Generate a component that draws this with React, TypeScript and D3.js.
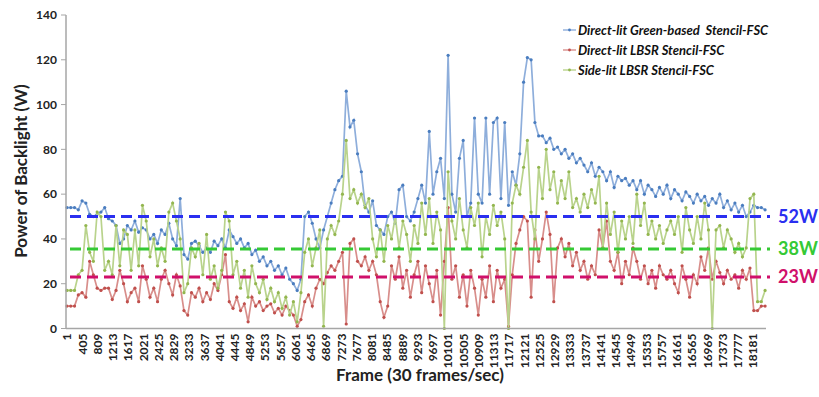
import React from "react";
import * as d3 from "d3";

// Backlight power per sampled frame (one sample every 100 frames, starting at frame 1)
const sampleStep = 100;

const greenBasedDirect = [
  54, 54, 54, 53, 57, 56, 51, 50, 51, 52, 54, 49, 48, 46, 38, 40, 46, 44, 48, 43,
  45, 44, 40, 42, 38, 44, 42, 47, 40, 37, 58, 33, 31, 38, 39, 37, 34, 36, 34, 39,
  37, 40, 36, 44, 41, 38, 40, 36, 38, 33, 35, 30, 32, 28, 30, 26, 28, 24, 27, 22,
  20, 17, 22, 50, 52, 47, 40, 36, 44, 50, 56, 62, 66, 68, 106, 90, 93, 78, 70, 55,
  52, 57, 46, 44, 42, 50, 52, 47, 62, 64, 50, 48, 52, 58, 64, 56, 88, 60, 70, 76,
  58, 122, 60, 52, 76, 84, 50, 56, 94, 60, 56, 94, 60, 92, 94, 58, 92, 55, 70, 64,
  78, 110, 121, 120, 92, 86, 86, 83, 85, 80, 81, 78, 80, 76, 78, 74, 76, 73, 70, 74,
  68, 72, 70, 66, 70, 63, 68, 66, 67, 64, 66, 62, 66, 60, 64, 62, 59, 63, 60, 64,
  58, 62, 60, 57, 61, 59, 56, 60, 57, 59, 55, 58, 56, 60, 54, 57, 53, 56, 52, 55,
  50, 52, 55, 54, 54, 53,
];

const lbsrDirect = [
  10, 10, 10, 15, 16, 14, 30, 24, 18, 17, 18, 18, 13, 17, 26, 20, 12, 16, 18, 12,
  28, 22, 14, 18, 12, 22, 26, 20, 15, 24, 19, 8, 6, 16, 14, 18, 12, 16, 13, 20,
  17, 24, 33, 12, 9, 14, 8, 11, 3, 14, 10, 12, 8, 10, 11, 7, 9, 6, 10, 8,
  6, 1, 4, 12, 15, 10, 18, 22, 20, 25, 28, 26, 30, 34, 2, 38, 40, 30, 28, 32,
  26, 30, 24, 12, 5, 10, 28, 22, 32, 18, 26, 14, 24, 30, 16, 28, 20, 12, 26, 6,
  30, 54, 22, 28, 14, 24, 10, 26, 18, 6, 22, 14, 28, 12, 26, 18, 22, 1, 24, 38,
  44, 50, 48, 14, 44, 30, 40, 52, 42, 12, 36, 40, 32, 38, 28, 34, 26, 30, 22, 28,
  24, 44, 36, 48, 30, 26, 34, 20, 30, 24, 36, 30, 22, 28, 20, 26, 18, 28, 24, 22,
  26, 20, 16, 28, 22, 14, 24, 20, 32, 26, 36, 22, 30, 25, 20, 26, 22, 24, 18, 26,
  22, 27, 8, 8, 10, 10,
];

const lbsrSide = [
  17, 17, 17, 24, 26, 46, 34, 30, 52, 50, 26, 30, 24, 46, 28, 44, 42, 26, 44, 28,
  55, 48, 32, 40, 28, 36, 30, 52, 56, 48, 40, 16, 20, 36, 32, 38, 24, 42, 22, 28,
  18, 26, 52, 48, 24, 30, 18, 26, 14, 28, 20, 16, 22, 13, 18, 12, 16, 9, 14, 6,
  12, 3, 16, 34, 40, 28, 36, 44, 1, 40, 46, 42, 48, 60, 84, 58, 62, 56, 60, 54,
  58, 40, 32, 44, 30, 46, 40, 50, 36, 48, 42, 30, 46, 38, 56, 42, 58, 38, 52, 44,
  0, 70, 48, 40, 58, 44, 36, 54, 46, 56, 32, 50, 42, 55, 46, 52, 40, 0, 56, 64,
  60, 72, 84, 52, 40, 72, 58, 80, 62, 70, 56, 66, 58, 70, 54, 58, 52, 60, 54, 62,
  56, 68, 36, 56, 42, 52, 34, 48, 40, 50, 38, 60, 46, 56, 42, 48, 40, 46, 38, 44,
  48, 42, 50, 34, 54, 44, 38, 50, 40, 56, 44, 0, 44, 46, 36, 44, 40, 34, 38, 32,
  36, 58, 60, 12, 12, 17,
];

const seriesNames = [
  "Direct-lit Green-based  Stencil-FSC",
  "Direct-lit LBSR Stencil-FSC",
  "Side-lit LBSR Stencil-FSC",
];

// Reference power budgets
const budgetValues = [50, 35.5, 23];
const budgetLabels = ["52W", "38W", "23W"];

const yTickValues = [0, 20, 40, 60, 80, 100, 120, 140];
const frameTickValues = d3.range(1, 18182, 404);

const seriesStyles = [
  { line: "#8eaedb", mark: "#4a7dbf" },
  { line: "#d88e8b", mark: "#c0504d" },
  { line: "#b9d38c", mark: "#93b64f" },
];
const budgetColors = ["#2a2ff0", "#35c935", "#d0106a"];

const FONT = "Lato, 'Open Sans', sans-serif";

export default function App() {
  const left = 66;
  const right = 766;
  const top = 15;
  const bottom = 328.5;

  const x = d3.scaleLinear().domain([-25, 18525]).range([left, right]);
  const y = d3.scaleLinear().domain([0, 140]).range([bottom, top]);

  const seriesData = [greenBasedDirect, lbsrDirect, lbsrSide];
  const line = d3
    .line<number>()
    .x((_, i) => x(1 + i * sampleStep))
    .y((d) => y(d));

  return (
    <div style={{ position: "absolute", left: 0, top: 0 }}>
      <svg width={819} height={397} style={{ display: "block", background: "#fff" }}>
        {/* series: connecting lines first, markers on top, later series over earlier */}
        {seriesData.map((vals, s) => (
          <g key={seriesNames[s]}>
            <path d={line(vals) ?? ""} fill="none" stroke={seriesStyles[s].line} strokeWidth={1.7} />
            {vals.map((v, i) => (
              <circle
                key={i}
                cx={x(1 + i * sampleStep)}
                cy={y(v)}
                r={1.6}
                fill={seriesStyles[s].mark}
              />
            ))}
          </g>
        ))}

        {/* budget lines */}
        {budgetValues.map((v, k) => (
          <g key={budgetLabels[k]}>
            <line
              x1={70}
              x2={770}
              y1={y(v)}
              y2={y(v)}
              stroke={budgetColors[k]}
              strokeWidth={3}
              strokeDasharray="11 6"
            />
            <text
              x={778}
              y={y(v)}
              dy="0.36em"
              fill={budgetColors[k]}
              fontFamily={FONT}
              fontWeight={700}
              fontSize={18}
            >
              {budgetLabels[k]}
            </text>
          </g>
        ))}

        {/* y axis */}
        <line x1={left} x2={left} y1={top} y2={bottom} stroke="#a6a6a6" strokeWidth={1.5} />
        {yTickValues.map((t) => (
          <g key={t}>
            <line x1={left - 5} x2={left} y1={y(t)} y2={y(t)} stroke="#a6a6a6" />
            <text
              x={57}
              y={y(t)}
              dy="0.35em"
              textAnchor="end"
              fontFamily={FONT}
              fontWeight={700}
              fontSize={12}
              fill="#222"
            >
              {t}
            </text>
          </g>
        ))}

        {/* x axis */}
        <line x1={left} x2={right} y1={bottom} y2={bottom} stroke="#a6a6a6" strokeWidth={1.5} />
        {frameTickValues.map((t) => (
          <text
            key={t}
            transform={`translate(${x(t)},${bottom + 5}) rotate(-90)`}
            dy="0.36em"
            textAnchor="end"
            fontFamily={FONT}
            fontWeight={700}
            fontSize={12}
            fill="#222"
          >
            {t}
          </text>
        ))}

        {/* axis titles */}
        <text
          x={420}
          y={381}
          textAnchor="middle"
          fontFamily={FONT}
          fontWeight={700}
          fontSize={17}
          fill="#222"
        >
          Frame (30 frames/sec)
        </text>
        <text
          transform="translate(27,171) rotate(-90)"
          textAnchor="middle"
          fontFamily={FONT}
          fontWeight={700}
          fontSize={17}
          fill="#222"
        >
          Power of Backlight (W)
        </text>

        {/* legend */}
        {seriesNames.map((name, s) => (
          <g key={name} transform={`translate(563,${30 + s * 20})`}>
            <line x1={0} x2={13} y1={0} y2={0} stroke={seriesStyles[s].line} strokeWidth={1.4} />
            <circle cx={6.5} cy={0} r={1.4} fill={seriesStyles[s].mark} />
            <text
              x={15}
              y={0}
              dy="0.36em"
              fontFamily={FONT}
              fontWeight={700}
              fontStyle="italic"
              fontSize={13}
              fill="#111"
              style={{ whiteSpace: "pre" }}
            >
              {name}
            </text>
          </g>
        ))}
      </svg>
    </div>
  );
}
